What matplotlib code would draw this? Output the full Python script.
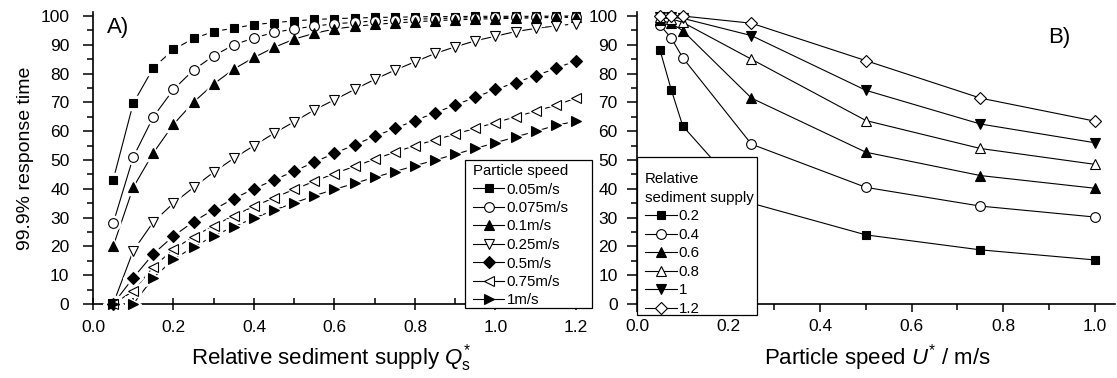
import matplotlib
matplotlib.use("Agg")
import matplotlib.pyplot as plt
from matplotlib.ticker import MultipleLocator, FormatStrFormatter
from matplotlib.patches import Rectangle

plt.rcParams["font.family"] = ["Liberation Sans", "DejaVu Sans"]
plt.rcParams["mathtext.fontset"] = "custom"
plt.rcParams["mathtext.rm"] = "Liberation Sans"
plt.rcParams["mathtext.it"] = "Liberation Sans:italic"

# panel A: response time vs relative sediment supply
supply = [0.05, 0.1, 0.15, 0.2, 0.25, 0.3, 0.35, 0.4, 0.45, 0.5, 0.55, 0.6,
          0.65, 0.7, 0.75, 0.8, 0.85, 0.9, 0.95, 1.0, 1.05, 1.1, 1.15, 1.2]
speed_labels = ["0.05m/s", "0.075m/s", "0.1m/s", "0.25m/s", "0.5m/s", "0.75m/s", "1m/s"]
a_005 = [43, 69.7, 82, 88.4, 92.2, 94.6, 95.8, 97, 97.7, 98.3, 98.8, 99.1,
         99.3, 99.5, 99.6, 99.7, 99.8, 99.8, 99.9, 99.9, 99.9, 99.9, 100, 100]
a_0075 = [28, 51, 65, 74.5, 81.3, 86.2, 90, 92.4, 94.3, 95.5, 96.5, 97.3,
          97.8, 98.3, 98.6, 98.9, 99.1, 99.3, 99.4, 99.5, 99.6, 99.7, 99.7, 99.8]
a_01 = [20, 40.5, 52.5, 62.4, 70.1, 76.4, 81.6, 85.6, 89.1, 92, 94, 95.5,
        96.4, 97.1, 97.6, 98, 98.4, 98.7, 98.9, 99.1, 99.2, 99.4, 99.5, 99.6]
a_025 = [0, 18.5, 28.5, 35, 40.5, 45.8, 50.6, 55, 59.3, 63.3, 67.4, 70.9,
         74.5, 78, 81.2, 84.1, 87, 89.3, 91.4, 93, 94.6, 95.7, 96.6, 97.3]
a_05 = [0, 9.1, 17.4, 23.6, 28.6, 32.8, 36.6, 40, 43.1, 46.1, 49.3, 52.3,
        55.3, 58.2, 61, 63.7, 66.4, 69.1, 71.8, 74.5, 76.9, 79.3, 81.8, 84.5]
a_075 = [0, 4.5, 12.9, 19, 23.4, 27.2, 30.7, 33.9, 36.9, 39.8, 42.6, 45.3,
         47.8, 50.3, 52.7, 55, 57, 59, 61, 63, 65, 67, 69, 71.5]
a_1 = [0, 0, 9.1, 15.5, 19.8, 23.6, 26.9, 29.8, 32.6, 35.1, 37.6, 39.8,
       41.9, 44, 46, 48, 50, 52, 54, 56, 58, 60, 62, 63.5]

# panel B: response time vs particle speed
speed = [0.05, 0.075, 0.1, 0.25, 0.5, 0.75, 1.0]
supply_labels = ["0.2", "0.4", "0.6", "0.8", "1", "1.2"]
b_02 = [88.3, 74.3, 61.8, 35, 24, 18.8, 15.3]
b_04 = [96.9, 92.3, 85.5, 55.5, 40.5, 34, 30.2]
b_06 = [98.5, 97.5, 94.9, 71.5, 52.7, 44.6, 40.2]
b_08 = [99.5, 99, 97.8, 85, 63.7, 54, 48.5]
b_1 = [99.8, 99.5, 99.2, 93.2, 74.2, 62.5, 56]
b_12 = [100, 100, 100, 97.5, 84.5, 71.5, 63.5]

series_a = [a_005, a_0075, a_01, a_025, a_05, a_075, a_1]
series_b = [b_02, b_04, b_06, b_08, b_1, b_12]
marks_a = [("s", "k"), ("o", "w"), ("^", "k"), ("v", "w"), ("D", "k"), ("<", "w"), (">", "k")]
marks_b = [("s", "k"), ("o", "w"), ("^", "k"), ("^", "w"), ("v", "k"), ("D", "w")]
msize = {"s": 6.4, "o": 7, "^": 7.8, "v": 7.8, "D": 6.4, "<": 7.8, ">": 7.8}

W, H = 1117, 378


def fx(px):
    return px / W


def fy(py):
    return 1 - py / H


fig = plt.figure(figsize=(W / 100, H / 100), dpi=100)
axA = fig.add_axes([fx(93), fy(304), 495 / W, 292 / H])
axB = fig.add_axes([fx(637), fy(304), 478 / W, 292 / H])

for y, (m, fc), lab in zip(series_a, marks_a, speed_labels):
    ms = msize[m]
    axA.plot(supply, y, "-", color="k", lw=0.8, zorder=2)
    # white halo so the line stops short of each symbol
    axA.plot(supply, y, m, ms=ms + 3.5, mfc="w", mec="w", ls="none", zorder=3, clip_on=False)
    axA.plot(supply, y, m, ms=ms, mfc=fc, mec="k", mew=0.8, ls="none", zorder=4, clip_on=False)
    axA.plot([], [], "-" + m, color="k", lw=0.8, ms=ms, mfc=fc, mec="k", mew=0.8, label=lab)

for y, (m, fc), lab in zip(series_b, marks_b, supply_labels):
    ms = msize[m]
    axB.plot(speed, y, "-" + m, color="k", lw=0.8, ms=ms, mfc=fc, mec="k", mew=0.8,
             label=lab, clip_on=False, zorder=3)

for ax in (axA, axB):
    ax.set_ylim(0, 101.4)
    ax.yaxis.set_major_locator(MultipleLocator(10))
    ax.yaxis.set_minor_locator(MultipleLocator(5))
    ax.xaxis.set_major_locator(MultipleLocator(0.2))
    ax.xaxis.set_minor_locator(MultipleLocator(0.1))
    ax.xaxis.set_major_formatter(FormatStrFormatter("%.1f"))
    ax.spines["top"].set_visible(False)
    ax.spines["right"].set_visible(False)
    for s in ("left", "bottom"):
        ax.spines[s].set_linewidth(1.2)
    ax.tick_params(axis="y", which="major", direction="out", length=7, width=1.1, labelsize=12.5)
    ax.tick_params(axis="y", which="minor", direction="out", length=4, width=1.1)
    ax.tick_params(axis="x", labelsize=12.5, pad=7)

axA.tick_params(axis="y", which="major", pad=10)
axB.tick_params(axis="y", which="major", pad=7)
axA.tick_params(axis="x", which="major", direction="inout", length=9, width=1.1)
axA.tick_params(axis="x", which="minor", direction="in", length=4, width=1.1)
axB.tick_params(axis="x", which="major", direction="out", length=6, width=1.1, pad=5)
axB.tick_params(axis="x", which="minor", direction="out", length=4, width=1.1)

axA.set_xlim(0, 1.23)
axB.set_xlim(0, 1.044)

axA.set_ylabel("99.9% response time", fontsize=14)
axA.yaxis.set_label_coords(-0.12, 0.5)
axA.set_xlabel(r"Relative sediment supply $Q_{\rm s}^{*}$", fontsize=16)
axA.xaxis.set_label_coords(0.481, -0.13)
axB.set_xlabel(r"Particle speed $U^{*}$ / m/s", fontsize=16)
axB.xaxis.set_label_coords(0.504, -0.13)

fig.text(fx(107), fy(27), "A)", fontsize=16, va="center", ha="left")
fig.text(fx(1048), fy(37), "B)", fontsize=16, va="center", ha="left")

# legend boxes drawn as plain white rectangles so their size matches the original
for ax, (x0, y0, x1, y1) in ((axA, (465, 160, 592, 308)), (axB, (637, 157, 757, 315))):
    ax.add_patch(Rectangle((fx(x0), fy(y1)), (x1 - x0) / W, (y1 - y0) / H,
                           transform=fig.transFigure, facecolor="w", edgecolor="k",
                           lw=0.9, clip_on=False, zorder=9))

legA = axA.legend(title="Particle speed", loc="upper left", bbox_to_anchor=(fx(473), fy(164)),
                  bbox_transform=fig.transFigure, fontsize=10.8, title_fontsize=10.8,
                  frameon=False, handlelength=2.1, handletextpad=0.15,
                  labelspacing=0.3, borderpad=0, borderaxespad=0)
legA._legend_box.align = "left"
legA.set_zorder(10)

legB = axB.legend(title="Relative\nsediment supply", loc="upper left",
                  bbox_to_anchor=(fx(645), fy(172)), bbox_transform=fig.transFigure,
                  fontsize=10.8, title_fontsize=10.8, frameon=False,
                  handlelength=2.1, handletextpad=0.15, labelspacing=0.3, borderpad=0,
                  borderaxespad=0)
legB._legend_box.align = "left"
legB.get_title().set_linespacing(1.45)
legB.set_zorder(10)

fig.savefig("out.png", dpi=100)
